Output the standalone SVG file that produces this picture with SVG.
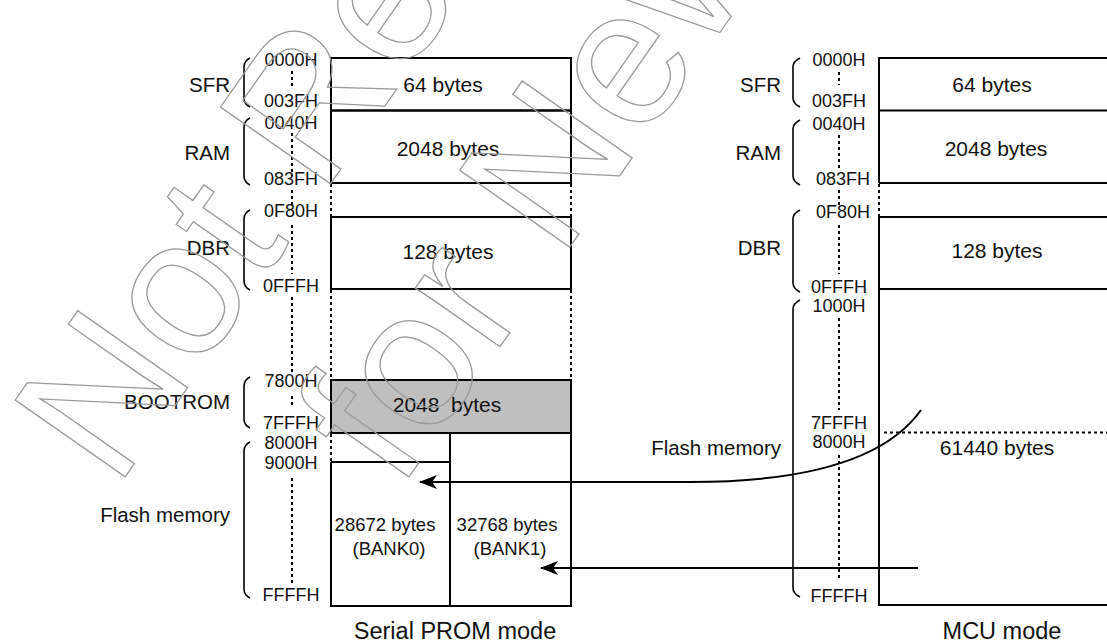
<svg xmlns="http://www.w3.org/2000/svg" width="1107" height="644" viewBox="0 0 1107 644">
<style>
text{font-family:"Liberation Sans",Arial,sans-serif;fill:#111}
.addr{font-size:18px;text-anchor:middle}
.lbl{font-size:20.5px;text-anchor:end}
.box{font-size:21px;text-anchor:middle}
.bank{font-size:18.5px;text-anchor:middle}
.mode{font-size:23.5px;text-anchor:middle}
.ln{stroke:#000;stroke-width:2;fill:none}
.gray{stroke:#000;stroke-width:2;fill:#bfbfbf}
.dot{stroke:#000;stroke-width:2;fill:none;stroke-dasharray:3 3}
.br{stroke:#000;stroke-width:1.6;fill:none}
.wm{font-family:"Liberation Sans",Arial,sans-serif;font-size:195px;fill:none;stroke:#9a9a9a;stroke-width:1.3}
</style>
<defs>
<marker id="ah" markerUnits="userSpaceOnUse" markerWidth="20" markerHeight="16" viewBox="0 -8 20 16" refX="17" refY="0" orient="auto">
<path d="M18,0 L0,-7 L5,0 L0,7 Z" fill="#000"/>
</marker>
</defs>
<rect width="1107" height="644" fill="#fff"/>

<!-- Serial PROM mode map -->
<g id="spm-sfr">
<rect class="ln" x="331" y="58" width="240" height="52.5"/>
<text class="box" x="443" y="92">64 bytes</text>
<path class="br" d="M250,58 C246,60 244,63 244,67 V98 C244,102 246,105 250,107"/>
<text class="lbl" x="230" y="92">SFR</text>
<text class="addr" x="291" y="66">0000H</text>
<text class="addr" x="291" y="107">003FH</text>
<line class="dot" x1="292" y1="71" x2="292" y2="86"/>
</g>
<g id="spm-ram">
<rect class="ln" x="331" y="110.5" width="240" height="72.5"/>
<text class="box" x="448" y="156">2048 bytes</text>
<path class="br" d="M250,118 C246,120 244,123 244,127 V176 C244,180 246,183 250,185"/>
<text class="lbl" x="230" y="160">RAM</text>
<text class="addr" x="291" y="129">0040H</text>
<text class="addr" x="291" y="185">083FH</text>
<line class="dot" x1="292" y1="133" x2="292" y2="176"/>
<line class="dot" x1="292" y1="190" x2="292" y2="205"/>
<line class="dot" x1="331" y1="184" x2="331" y2="216"/>
<line class="dot" x1="571" y1="184" x2="571" y2="216"/>
</g>
<g id="spm-dbr">
<rect class="ln" x="331" y="217" width="240" height="72"/>
<text class="box" x="448" y="259">128 bytes</text>
<path class="br" d="M250,210 C246,212 244,215 244,219 V281 C244,285 246,288 250,290"/>
<text class="lbl" x="230" y="255">DBR</text>
<text class="addr" x="291" y="217">0F80H</text>
<text class="addr" x="291" y="292">0FFFH</text>
<line class="dot" x1="292" y1="225" x2="292" y2="274"/>
<line class="dot" x1="292" y1="297" x2="292" y2="375"/>
<line class="dot" x1="331" y1="290" x2="331" y2="379"/>
<line class="dot" x1="571" y1="290" x2="571" y2="379"/>
</g>
<g id="spm-bootrom">
<rect class="gray" x="331" y="380" width="240" height="53"/>
<text class="box" x="447" y="412" xml:space="preserve">2048  bytes</text>
<path class="br" d="M250,377 C246,379 244,382 244,386 V419 C244,423 246,426 250,428"/>
<text class="lbl" x="230" y="409">BOOTROM</text>
<text class="addr" x="291" y="387">7800H</text>
<text class="addr" x="291" y="429">7FFFH</text>
<line class="dot" x1="292" y1="396" x2="292" y2="407"/>
</g>
<g id="spm-flash">
<line class="dot" x1="331" y1="434" x2="331" y2="462"/>
<path class="ln" d="M331,462 H450 M331,462 V606 H571 V433 M450,433 V606"/>
<text class="bank" x="385" y="531">28672 bytes</text>
<text class="bank" x="389" y="555">(BANK0)</text>
<text class="bank" x="507" y="531">32768 bytes</text>
<text class="bank" x="510" y="555">(BANK1)</text>
<path class="br" d="M250,442 C246,444 244,447 244,451 V589 C244,593 246,596 250,598"/>
<text class="lbl" x="230" y="522">Flash memory</text>
<text class="addr" x="291" y="449">8000H</text>
<text class="addr" x="291" y="469">9000H</text>
<text class="addr" x="291" y="601">FFFFH</text>
<line class="dot" x1="292" y1="478" x2="292" y2="584"/>
</g>
<text class="mode" x="455" y="639">Serial PROM mode</text>

<!-- MCU mode map -->
<g id="mcu-sfr">
<path class="ln" d="M1110,58 H879 V183 M879,110.5 H1110"/>
<text class="box" x="992" y="92">64 bytes</text>
<path class="br" d="M800,58 C796,60 793,63 793,67 V98 C793,102 796,105 800,107"/>
<text class="lbl" x="781" y="92">SFR</text>
<text class="addr" x="839" y="66">0000H</text>
<text class="addr" x="839" y="107">003FH</text>
<line class="dot" x1="839" y1="72" x2="839" y2="85"/>
</g>
<g id="mcu-ram">
<path class="ln" d="M879,183 H1110"/>
<text class="box" x="996" y="156">2048 bytes</text>
<path class="br" d="M800,120 C796,122 793,125 793,129 V176 C793,180 796,183 800,185"/>
<text class="lbl" x="781" y="160">RAM</text>
<text class="addr" x="839" y="130">0040H</text>
<text class="addr" x="843" y="185">083FH</text>
<line class="dot" x1="839" y1="135" x2="839" y2="168"/>
<line class="dot" x1="839" y1="190" x2="839" y2="206"/>
<line class="dot" x1="879" y1="184" x2="879" y2="216"/>
</g>
<g id="mcu-dbr">
<path class="ln" d="M1110,217 H879 V289 H1110"/>
<text class="box" x="997" y="258">128 bytes</text>
<path class="br" d="M800,210 C796,212 793,215 793,219 V283 C793,287 796,290 800,292"/>
<text class="lbl" x="781" y="255">DBR</text>
<text class="addr" x="843" y="218">0F80H</text>
<text class="addr" x="839" y="293">0FFFH</text>
<line class="dot" x1="839" y1="225" x2="839" y2="274"/>
</g>
<g id="mcu-flash">
<path class="ln" d="M879,289 V605 H1110"/>
<line class="dot" x1="884" y1="432.5" x2="1107" y2="432.5"/>
<text class="box" x="997" y="455">61440 bytes</text>
<path class="br" d="M800,300 C796,302 793,305 793,309 V588 C793,592 796,595 800,597"/>
<text class="lbl" x="781" y="455">Flash memory</text>
<text class="addr" x="839" y="312">1000H</text>
<text class="addr" x="839" y="429">7FFFH</text>
<text class="addr" x="839" y="448">8000H</text>
<text class="addr" x="839" y="602">FFFFH</text>
<line class="dot" x1="839" y1="318" x2="839" y2="410"/>
<line class="dot" x1="839" y1="455" x2="839" y2="579"/>
</g>
<text class="mode" x="1002" y="639">MCU mode</text>

<g id="connectors">
<path class="ln" d="M921,410 Q870,482 690,482 H420" marker-end="url(#ah)"/>
<path class="ln" d="M918,568 H541" marker-end="url(#ah)"/>
</g>

<g id="watermark">
<text class="wm" transform="translate(116,490) rotate(-55)">Not Recommended</text>
<text class="wm" transform="translate(399,491) rotate(-55)">for New Design</text>
</g>
</svg>
